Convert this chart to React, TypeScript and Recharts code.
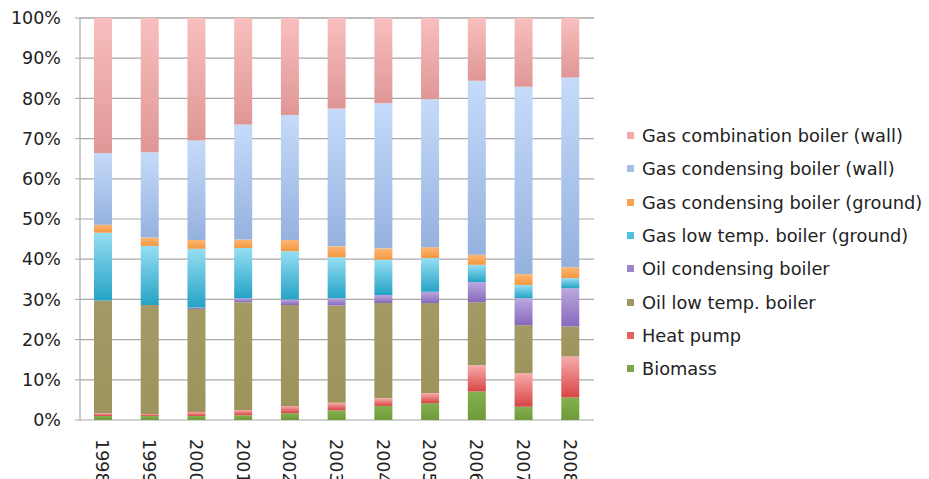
import { BarChart, Bar, XAxis, YAxis, CartesianGrid, Legend } from 'recharts'

// shares of new heating systems installed, percent of total per year
const years = ['1998', '1999', '2000', '2001', '2002', '2003', '2004', '2005', '2006', '2007', '2008']
const biomass = [1.0, 1.0, 1.0, 1.2, 1.7, 2.4, 3.5, 4.2, 7.1, 3.3, 5.6]
const heatPump = [0.7, 0.5, 1.0, 1.3, 1.8, 1.9, 1.9, 2.5, 6.5, 8.3, 10.2]
const oilLowTemp = [28.0, 27.1, 25.6, 26.8, 25.1, 24.2, 23.7, 22.4, 15.7, 12.0, 7.5]
const oilCondensing = [0, 0, 0.4, 1.0, 1.4, 1.8, 2.0, 2.8, 5.0, 6.7, 9.5]
const gasLowTemp = [16.9, 14.7, 14.6, 12.5, 12.0, 10.2, 8.8, 8.4, 4.3, 3.3, 2.5]
const gasCondGround = [2.0, 2.1, 2.2, 2.1, 2.8, 2.7, 2.8, 2.7, 2.5, 2.7, 2.7]
const gasCondWall = [17.8, 21.2, 24.7, 28.6, 31.1, 34.3, 36.1, 36.8, 43.3, 46.6, 47.2]
const gasCombi = [33.6, 33.4, 30.5, 26.5, 24.1, 22.5, 21.2, 20.2, 15.6, 17.1, 14.8]

const yTicks = [0, 10, 20, 30, 40, 50, 60, 70, 80, 90, 100]
const edgeTicks = [0, 1, 2, 3, 4, 5, 6, 7, 8, 9, 10, 11]

// stacking order, bottom to top
const series = [
  { key: 'biomass', name: 'Biomass', values: biomass, top: '#86b04f', bottom: '#6e9a3a', swatch: '#7ba445' },
  { key: 'heatPump', name: 'Heat pump', values: heatPump, top: '#f7abab', bottom: '#d84545', swatch: '#e06464' },
  { key: 'oilLowTemp', name: 'Oil low temp. boiler', values: oilLowTemp, top: '#a39a66', bottom: '#9c935d', swatch: '#a09762' },
  { key: 'oilCondensing', name: 'Oil condensing boiler', values: oilCondensing, top: '#bba8dd', bottom: '#8669bd', swatch: '#9c86c9' },
  { key: 'gasLowTemp', name: 'Gas low temp. boiler (ground)', values: gasLowTemp, top: '#96def2', bottom: '#25a3c6', swatch: '#4fc0de' },
  { key: 'gasCondGround', name: 'Gas condensing boiler (ground)', values: gasCondGround, top: '#fcb775', bottom: '#f4973f', swatch: '#f8a24f' },
  { key: 'gasCondWall', name: 'Gas condensing boiler (wall)', values: gasCondWall, top: '#c6dbfa', bottom: '#95b1df', swatch: '#a6bfe8' },
  { key: 'gasCombi', name: 'Gas combination boiler (wall)', values: gasCombi, top: '#f8bfbe', bottom: '#df9796', swatch: '#f2a9a8' },
]

const data = years.map((year, i) => {
  const row: Record<string, string | number> = { year }
  series.forEach((s) => {
    row[s.key] = s.values[i]
  })
  return row
})

const FONT = 'DejaVu Sans, sans-serif'
const GRID = '#a8a8a8'

const YearTick = (props: any) => {
  const { x, y, payload } = props
  return (
    <text
      transform={`translate(${x - 1},${y + 19}) rotate(90)`}
      textAnchor="start"
      dominantBaseline="central"
      fontFamily={FONT}
      fontSize={17.5}
      fill="#222"
    >
      {payload.value}
    </text>
  )
}

const LegendBox = () => (
  <div style={{ fontFamily: FONT, fontSize: 17.8, color: '#222' }}>
    {[...series].reverse().map((s) => (
      <div key={s.key} style={{ display: 'flex', alignItems: 'center', height: 33.3, whiteSpace: 'nowrap' }}>
        <span style={{ display: 'inline-block', width: 7, height: 7, background: s.swatch, marginRight: 8 }} />
        {s.name}
      </div>
    ))}
  </div>
)

export default function App() {
  return (
    <div style={{ position: 'absolute', left: 0, top: 0, width: 929, height: 479, background: '#fff' }}>
      <BarChart
        width={929}
        height={479}
        data={data}
        margin={{ top: 18, right: 335, bottom: 0, left: 0 }}
        barSize={18}
      >
        <defs>
          {series.map((s) => (
            <linearGradient key={s.key} id={`grad-${s.key}`} x1="0" y1="0" x2="0" y2="1">
              <stop offset="0%" stopColor={s.top} />
              <stop offset="100%" stopColor={s.bottom} />
            </linearGradient>
          ))}
        </defs>
        <CartesianGrid vertical={false} stroke={GRID} strokeWidth={1.2} />
        <XAxis
          xAxisId="edges"
          type="number"
          domain={[0, 11]}
          ticks={edgeTicks}
          allowDataOverflow
          height={0}
          tickSize={6}
          tickFormatter={() => ''}
          stroke={GRID}
          axisLine={{ stroke: GRID, strokeWidth: 1.2 }}
          tickLine={{ stroke: GRID }}
        />
        <XAxis
          dataKey="year"
          height={59}
          axisLine={false}
          tickLine={false}
          tickSize={0}
          tickMargin={0}
          interval={0}
          tick={<YearTick />}
        />
        <YAxis
          width={80}
          domain={[0, 100]}
          ticks={yTicks}
          tickFormatter={(v: number) => `${v}%`}
          tickSize={5}
          tickMargin={14}
          axisLine={{ stroke: GRID, strokeWidth: 1.2 }}
          tickLine={{ stroke: GRID }}
          tick={{ fill: '#222', fontSize: 17.5, fontFamily: FONT }}
        />
        <Legend
          layout="vertical"
          align="center"
          verticalAlign="middle"
          content={<LegendBox />}
          wrapperStyle={{ left: 627, top: 119, width: 300, height: 270 }}
        />
        {series.map((s) => (
          <Bar
            key={s.key}
            dataKey={s.key}
            name={s.name}
            stackId="share"
            fill={`url(#grad-${s.key})`}
            isAnimationActive={false}
          />
        ))}
      </BarChart>
    </div>
  )
}
